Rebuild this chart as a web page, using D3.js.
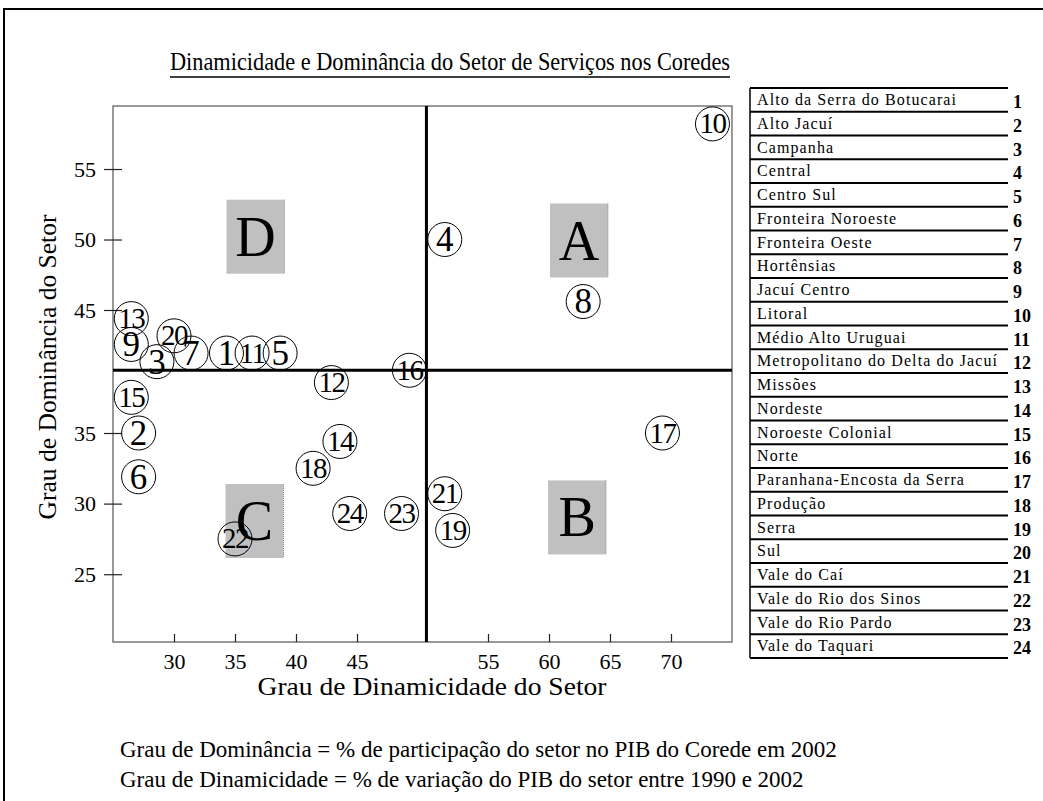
<!DOCTYPE html>
<html><head><meta charset="utf-8">
<script src="https://cdn.jsdelivr.net/npm/d3@7"></script>
<style>
body{margin:0;background:#fff}
svg{display:block}
text{font-family:"Liberation Serif","Times New Roman",serif;fill:#000}
</style>
</head><body>
<svg id="c" width="1043" height="801"></svg>
<script>
// ---- data ----
const names = ["Alto da Serra do Botucarai","Alto Jacuí","Campanha","Central","Centro Sul",
  "Fronteira Noroeste","Fronteira Oeste","Hortênsias","Jacuí Centro","Litoral",
  "Médio Alto Uruguai","Metropolitano do Delta do Jacuí","Missões","Nordeste",
  "Noroeste Colonial","Norte","Paranhana-Encosta da Serra","Produção","Serra","Sul",
  "Vale do Caí","Vale do Rio dos Sinos","Vale do Rio Pardo","Vale do Taquari"];
const dinamicidade = [34.3,27.1,28.6,51.7,38.7,27.1,31.4,62.8,26.5,73.4,36.4,42.9,
  26.5,43.6,26.5,49.0,69.3,41.4,52.3,30.0,51.7,35.0,48.4,44.4];
const dominancia = [41.5,35.0,40.8,50.0,41.5,31.9,41.5,45.6,42.2,58.2,41.5,39.1,
  44.3,34.4,37.9,40.1,35.0,32.5,28.1,42.9,30.7,27.5,29.3,29.3];
const xTicks = [30,35,40,45,55,60,65,70];
const yTicks = [25,30,35,45,50,55];
const quadLabels = ["A","B","C","D"];
const quadX = [62.46,62.3,36.6,36.68];
const quadY = [49.93,29.02,28.77,50.2];
const mediaDinamicidade = 50.3;
const mediaDominancia = 40.1;
const titleText = "Dinamicidade e Dominância do Setor de Serviços nos Coredes";
const xTitle = "Grau de Dinamicidade do Setor";
const yTitle = "Grau de Dominância do Setor";
const notes = ["Grau de Dominância = % de participação do setor no PIB do Corede em 2002",
  "Grau de Dinamicidade = % de variação do PIB do setor entre 1990 e 2002"];

// ---- layout ----
const svg = d3.select("#c");
const L = 113, T = 106, R = 732, B = 642;

// outer frame (top and left edges visible)
svg.append("path").attr("d", `M4,801 V9 H1043`).attr("fill","none")
  .attr("stroke","#000").attr("stroke-width",2);

// scales (broken axis: compressed / stretched middle segment)
const x = d3.scaleLinear().domain([25,45,55,75]).range([L, L+244, L+375, R]);
const y = d3.scaleLinear().domain([20.2,35,45,59.47]).range([B, B-209, B-332, T]);

// title
svg.append("text").attr("x",450).attr("y",70).attr("text-anchor","middle")
  .attr("font-size",26).attr("textLength",560).attr("lengthAdjust","spacingAndGlyphs")
  .text(titleText);
svg.append("line").attr("x1",170).attr("x2",730).attr("y1",77).attr("y2",77)
  .attr("stroke","#000").attr("stroke-width",1.3);

// plot frame
svg.append("rect").attr("x",L).attr("y",T).attr("width",R-L).attr("height",B-T)
  .attr("fill","none").attr("stroke","#555").attr("stroke-width",1.2);

// quadrant boxes
const qg = svg.append("g");
quadLabels.forEach((lab,i)=>{
  const cx = x(quadX[i]), cy = y(quadY[i]);
  qg.append("rect").attr("x",cx-29).attr("y",cy-37).attr("width",58).attr("height",74)
    .attr("fill","#c0c0c0");
  qg.append("line").attr("x1",cx+29).attr("x2",cx+29).attr("y1",cy-37).attr("y2",cy+37)
    .attr("stroke","#777").attr("stroke-width",0.8).attr("stroke-dasharray","1,1");
});

// axes
const yAxis = d3.axisLeft(y).tickValues(yTicks).tickSize(9).tickPadding(8).tickFormat(d3.format("d"));
const ya = svg.append("g").attr("transform",`translate(${L},0)`).call(yAxis);
ya.select(".domain").remove();
ya.selectAll(".tick line").attr("x1",9).attr("stroke","#222").attr("stroke-width",1.2);
ya.selectAll(".tick text").attr("font-size",22).attr("font-family","Liberation Serif");

const xAxis = d3.axisBottom(x).tickValues(xTicks).tickSize(-8).tickPadding(11).tickFormat(d3.format("d"));
const xa = svg.append("g").attr("transform",`translate(0,${B})`).call(xAxis);
xa.select(".domain").remove();
xa.selectAll(".tick line").attr("stroke","#222").attr("stroke-width",1.2);
xa.selectAll(".tick text").attr("font-size",22).attr("font-family","Liberation Serif");

// axis titles
svg.append("text").attr("x",432).attr("y",695).attr("text-anchor","middle")
  .attr("font-size",26).attr("textLength",349).attr("lengthAdjust","spacingAndGlyphs").text(xTitle);
svg.append("text").attr("transform","translate(56,367) rotate(-90)").attr("text-anchor","middle")
  .attr("font-size",26).attr("textLength",305).attr("lengthAdjust","spacingAndGlyphs").text(yTitle);

// quadrant dividers
svg.append("line").attr("x1",x(mediaDinamicidade)).attr("x2",x(mediaDinamicidade))
  .attr("y1",T).attr("y2",B).attr("stroke","#000").attr("stroke-width",3);
svg.append("line").attr("x1",L).attr("x2",R).attr("y1",y(mediaDominancia)).attr("y2",y(mediaDominancia))
  .attr("stroke","#000").attr("stroke-width",3);

// points
const pts = svg.append("g").selectAll("g").data(names).join("g")
  .attr("transform",(d,i)=>`translate(${x(dinamicidade[i])},${y(dominancia[i])})`);
pts.append("circle").attr("r",17).attr("fill","none").attr("stroke","#000").attr("stroke-width",1);
pts.append("text").attr("text-anchor","middle")
  .attr("font-size",(d,i)=> i+1>=10 ? 29 : 35)
  .attr("letter-spacing",(d,i)=> i+1>=10 ? -1.5 : 0)
  .attr("dy",(d,i)=> i+1>=10 ? "0.33em" : "0.34em")
  .text((d,i)=>i+1);

// quadrant letters
quadLabels.forEach((lab,i)=>{
  svg.append("text").attr("x",x(quadX[i])).attr("y",y(quadY[i])).attr("dy","0.34em")
    .attr("text-anchor","middle").attr("font-size",56).text(lab);
});

// legend
const lx = 750, lr = 1008, ltop = 88, rowH = 23.75;
const lg = svg.append("g");
lg.append("line").attr("x1",lx).attr("x2",lx).attr("y1",ltop).attr("y2",ltop+rowH*names.length)
  .attr("stroke","#000").attr("stroke-width",1.5);
lg.selectAll("line.row").data(d3.range(names.length+1)).join("line").attr("class","row")
  .attr("x1",lx).attr("x2",lr).attr("y1",i=>ltop+i*rowH).attr("y2",i=>ltop+i*rowH)
  .attr("stroke","#000").attr("stroke-width",2);
lg.selectAll("text.nm").data(names).join("text").attr("class","nm")
  .attr("x",lx+7).attr("y",(d,i)=>ltop+i*rowH+17).attr("font-size",16)
  .attr("letter-spacing",1.1).text(d=>d);
lg.selectAll("text.num").data(names).join("text").attr("class","num")
  .attr("x",lr+5).attr("y",(d,i)=>ltop+i*rowH+20).attr("font-size",18).attr("font-weight","bold")
  .text((d,i)=>i+1);

// notes
svg.selectAll("text.note").data(notes).join("text").attr("class","note")
  .attr("x",120).attr("y",(d,i)=>757+i*30).attr("font-size",23).text(d=>d);
</script>
</body></html>
